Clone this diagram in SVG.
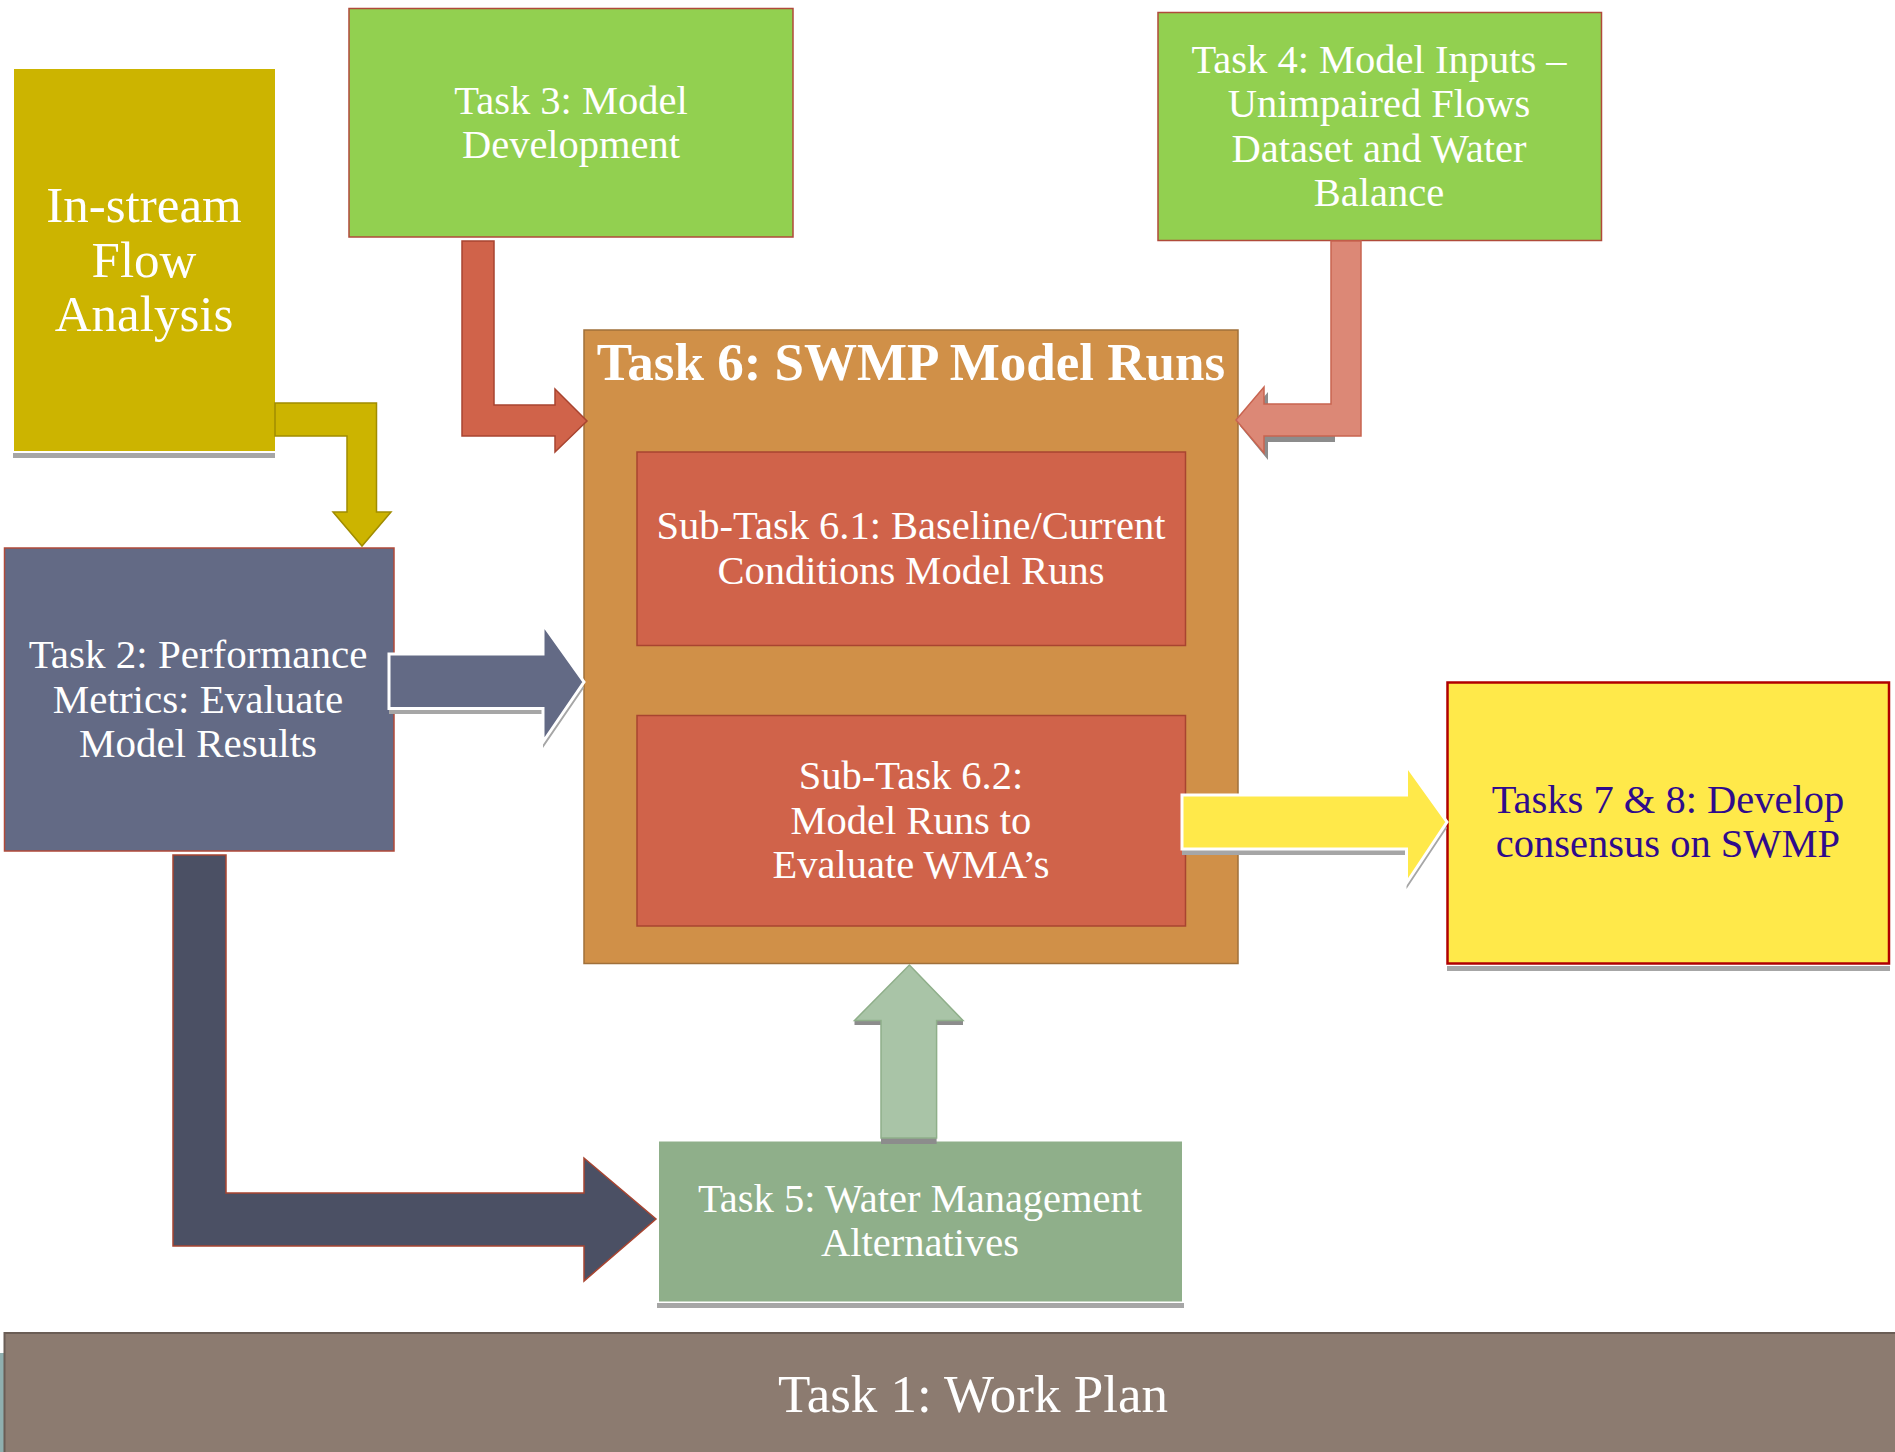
<svg xmlns="http://www.w3.org/2000/svg" width="1895" height="1452" viewBox="0 0 1895 1452">
<defs>
<style>
.t{font-family:"Liberation Serif","Times New Roman",serif;fill:#FFFFFF;text-anchor:middle;font-size:40.5px}
.shadow{fill:#A6A6A6}
</style>
</defs>
<rect width="1895" height="1452" fill="#FFFFFF"/>

<g id="instream">
  <rect x="13" y="453" width="262" height="5" class="shadow"/>
  <rect x="14" y="69" width="261" height="382" fill="#CCB400"/>
  <text class="t" style="font-size:51px" x="144" y="222">In-stream</text>
  <text class="t" style="font-size:51px" x="144" y="277">Flow</text>
  <text class="t" style="font-size:51px" x="144" y="331">Analysis</text>
</g>

<g id="task3">
  <rect x="349" y="8.5" width="444" height="228.5" fill="#92D050" stroke="#B04A3A" stroke-width="1.5"/>
  <text class="t" x="571" y="114">Task 3: Model</text>
  <text class="t" x="571" y="158">Development</text>
</g>

<g id="task4">
  <rect x="1158" y="12.5" width="443.5" height="228" fill="#92D050" stroke="#B04A3A" stroke-width="1.5"/>
  <text class="t" x="1379" y="73">Task 4: Model Inputs –</text>
  <text class="t" x="1379" y="117">Unimpaired Flows</text>
  <text class="t" x="1379" y="162">Dataset and Water</text>
  <text class="t" x="1379" y="206">Balance</text>
</g>

<g id="task6">
  <rect x="584" y="330" width="654" height="633.5" fill="#D09048" stroke="#A0703A" stroke-width="1.5"/>
  <text class="t" style="font-size:53px;font-weight:bold" x="911" y="380">Task 6: SWMP Model Runs</text>
</g>

<g id="subtask61">
  <rect x="637" y="452" width="548.5" height="193.5" fill="#D0634A" stroke="#A84430" stroke-width="1.5"/>
  <text class="t" x="911" y="539">Sub-Task 6.1: Baseline/Current</text>
  <text class="t" x="911" y="584">Conditions Model Runs</text>
</g>

<g id="subtask62">
  <rect x="637" y="715.5" width="548.5" height="210.5" fill="#D0634A" stroke="#A84430" stroke-width="1.5"/>
  <text class="t" x="911" y="789">Sub-Task 6.2:</text>
  <text class="t" x="911" y="833.5">Model Runs to</text>
  <text class="t" x="911" y="877.5">Evaluate WMA’s</text>
</g>

<g id="task2">
  <rect x="4.5" y="548" width="389.5" height="303" fill="#636A85" stroke="#B04A3A" stroke-width="1.5"/>
  <text class="t" style="font-size:41px" x="198" y="668">Task 2: Performance</text>
  <text class="t" style="font-size:41px" x="198" y="713">Metrics: Evaluate</text>
  <text class="t" style="font-size:41px" x="198" y="757">Model Results</text>
</g>

<g id="task78">
  <rect x="1447" y="966" width="443" height="5" class="shadow"/>
  <rect x="1447.5" y="682.5" width="441.5" height="281" fill="#FFE94A" stroke="#B00000" stroke-width="2.5"/>
  <text class="t" style="fill:#2F0B8C" x="1668" y="813">Tasks 7 &amp; 8: Develop</text>
  <text class="t" style="fill:#2F0B8C" x="1668" y="857">consensus on SWMP</text>
</g>

<g id="task5">
  <rect x="657" y="1303" width="527" height="5" class="shadow"/>
  <rect x="659" y="1141.5" width="523" height="160" fill="#8FAF8A"/>
  <text class="t" x="920" y="1212">Task 5: Water Management</text>
  <text class="t" x="920" y="1256">Alternatives</text>
</g>

<g id="task1">
  <rect x="0" y="1353" width="4" height="99" fill="#8FAFAF"/>
  <rect x="4.5" y="1333" width="1892" height="122" fill="#8C7B70" stroke="#6A5D55" stroke-width="2"/>
  <text class="t" style="font-size:53px" x="973" y="1412">Task 1: Work Plan</text>
</g>

<g id="connectors">
  <!-- In-stream -> Task 2 -->
  <polygon points="275,403 376.5,403 376.5,512 391,512 362,546 333,512 347,512 347,436 275,436" fill="#CCB400" stroke="#A08C00" stroke-width="1.5"/>
  <!-- Task 3 -> Task 6 -->
  <polygon points="462,241 494,241 494,405 555,405 555,389 587,421 555,452 555,436 462,436" fill="#D0634A" stroke="#A84430" stroke-width="1.5"/>
  <!-- Task 4 -> Task 6 -->
  <polygon points="1240,426 1268,392 1268,409 1335,409 1335,442 1268,442 1268,460" fill="#8C8C8C"/>
  <polygon points="1331,241 1361,241 1361,436 1264,436 1264,453 1236,420 1264,387 1264,404 1331,404" fill="#DC8876" stroke="#C86450" stroke-width="1.5"/>
  <!-- Task 2 -> Task 6 -->
  <polygon points="389,660 543,660 543,630 584,688 543,748 543,714 389,714" fill="#A6A6A6"/>
  <polygon points="389,654 543,654 543,624.5 584,682 543,742 543,708.5 389,708.5" fill="#636A85" stroke="#FFFFFF" stroke-width="3"/>
  <!-- Task 6.2 -> Tasks 7&8 -->
  <polygon points="1182,801 1406.5,801 1406.5,772 1447,828 1406.5,889 1406.5,855 1182,855" fill="#A6A6A6"/>
  <polygon points="1182,795 1406.5,795 1406.5,765.5 1447,822 1406.5,883 1406.5,849 1182,849" fill="#FFE94A" stroke="#FFFFFF" stroke-width="3"/>
  <!-- Task 2 -> Task 5 -->
  <polygon points="173,855 226,855 226,1193 584,1193 584,1158 656,1219 584,1281 584,1246 173,1246" fill="#4B5064" stroke="#A84430" stroke-width="1.5"/>
  <!-- Task 5 -> Task 6 -->
  <rect x="854.5" y="1020" width="108.5" height="5" fill="#8C8C8C"/>
  <rect x="881" y="1138" width="55.6" height="6" fill="#8C8C8C"/>
  <polygon points="881,1138 881,1020.5 854.5,1020.5 909.4,965 963,1020.5 936.6,1020.5 936.6,1138" fill="#A9C4A7" stroke="#8FAF8A" stroke-width="1.5"/>
</g>
</svg>
